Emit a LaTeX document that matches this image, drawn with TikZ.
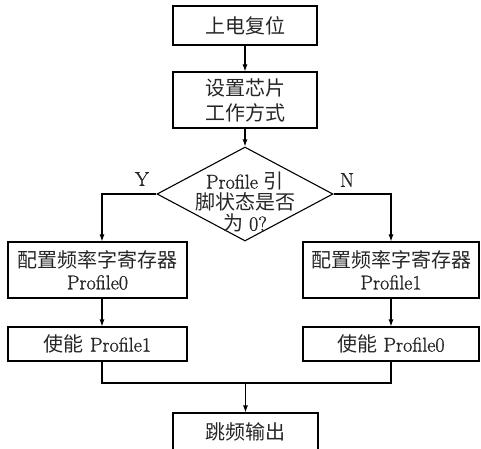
\documentclass[tikz,border=0pt]{standalone}
\usepackage{fontspec}
\setmainfont{Latin Modern Roman}[FakeBold=1.2]
\newfontfamily\cjkf{Noto Sans CJK SC}
\usetikzlibrary{shapes.geometric,arrows.meta}
\begin{document}
\begin{tikzpicture}[x=1pt,y=-1pt,
  box/.style={draw, line width=1.1pt, inner sep=0pt, align=center, text=black!85,
    font=\fontsize{20}{22}\selectfont},
  txt/.style={inner sep=0pt, align=center, text=black!85, font=\fontsize{20}{22}\selectfont},
  arr/.style={line width=1.1pt, -{Latex[length=7pt,width=5pt]}},
  ln/.style={line width=1.1pt}]
\useasboundingbox (0,0) rectangle (481,448);
% top boxes
\node[box, minimum width=144pt, minimum height=39pt] (b1) at (245,25.5) {{\cjkf 上电复位}};
\node[box, minimum width=144pt, minimum height=56pt, font=\fontsize{20}{25}\selectfont] (b2) at (245,100) {{\cjkf 设置芯片}\\{\cjkf 工作方式}};
% decision
\node[draw, diamond, line width=1.1pt, minimum width=176pt, minimum height=94pt, inner sep=0pt] (d) at (245,194) {};
\node[txt, font=\fontsize{20}{21}\selectfont] (dt) at (245,202) {Profile {\cjkf 引}\\{\cjkf 脚状态是否}\\{\cjkf 为} 0?};
\node[txt] (y) at (142,179) {Y};
\node[txt] (n) at (347,180) {N};
% left column
\node[box, minimum width=179pt, minimum height=56pt] (L3) at (97.5,270) {{\cjkf 配置频率字寄存器}\\Profile0};
\node[box, minimum width=179pt, minimum height=34pt] (L4) at (97.5,344) {{\cjkf 使能} Profile1};
% right column
\node[box, minimum width=176pt, minimum height=56pt] (R3) at (391,270) {{\cjkf 配置频率字寄存器}\\Profile1};
\node[box, minimum width=176pt, minimum height=34pt] (R4) at (391,344) {{\cjkf 使能} Profile0};
% final
\node[box, minimum width=145pt, minimum height=38pt] (F) at (245.5,432) {{\cjkf 跳频输出}};
\coordinate (m) at (245.5,383);
% connectors
\draw[arr] (b1) -- (b2);
\draw[arr] (b2) -- (d.north);
\draw[arr] (d.west) -| ([xshift=4.5pt]L3.north);
\draw[arr] (d.east) -| (R3.north);
\draw[arr] ([xshift=4.5pt]L3.south) -- ([xshift=4.5pt]L4.north);
\draw[arr] (R3) -- (R4);
\draw[ln] ([xshift=4.5pt]L4.south) |- (m) -| (R4.south);
\draw[arr] (m) -- (F.north);
\end{tikzpicture}
\end{document}
